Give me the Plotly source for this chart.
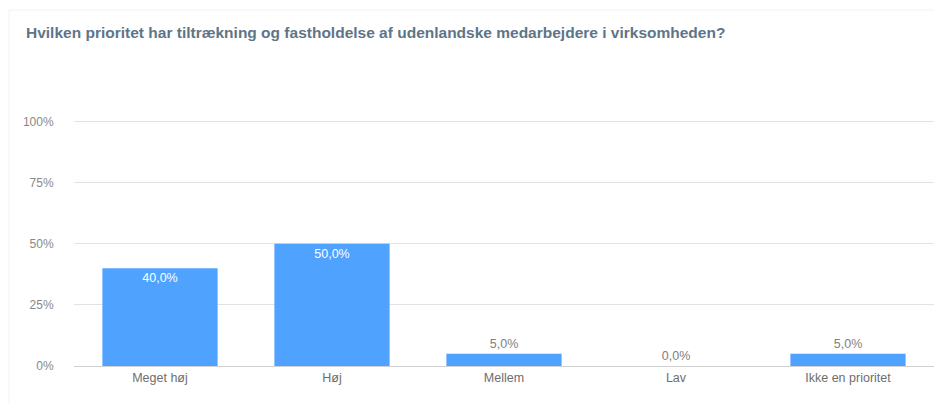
import plotly.graph_objects as go

categories = ["Meget høj", "Høj", "Mellem", "Lav", "Ikke en prioritet"]
values = [40.0, 50.0, 5.0, 0.0, 5.0]
tick_vals = [0, 25, 50, 75, 100]
tick_text = ["0%", "25%", "50%", "75%", "100%"]

labels = [f"{v:.1f}%".replace(".", ",") for v in values]
# big bars get label inside (white), small ones outside (gray)
positions = ["inside" if v >= 20 else "outside" for v in values]
text_colors = ["white" if p == "inside" else "#808080" for p in positions]

# page body adds 8px offset, so margins are shifted by that
L, R, T, B = 66, 16, 111, 45

fig = go.Figure(
    go.Bar(
        x=categories,
        y=values,
        text=labels,
        textposition=positions,
        insidetextanchor="end",
        textfont=dict(family="Liberation Sans, Arial", size=12.5, color=text_colors),
        marker=dict(color="#50A2FF", line=dict(width=0)),
        cliponaxis=False,
        hoverinfo="x+y",
    )
)

fig.update_layout(
    width=942,
    height=403,
    paper_bgcolor="white",
    plot_bgcolor="white",
    margin=dict(l=L, r=R, t=T, b=B),
    bargap=0.33,
    showlegend=False,
    font=dict(family="Liberation Sans, Arial", size=12, color="#808080"),
    title=dict(
        text="<b>Hvilken prioritet har tiltrækning og fastholdelse af udenlandske medarbejdere i virksomheden?</b>",
        x=18 / 942,
        xanchor="left",
        y=1 - 25 / 403,
        yanchor="middle",
        font=dict(family="Liberation Sans, Arial", size=15.5, color="#5E7588"),
    ),
    xaxis=dict(
        showgrid=False,
        showline=True,
        linecolor="#D0D0D0",
        linewidth=1,
        ticks="",
        tickfont=dict(size=12.5, color="#6E6E6E"),
    ),
    yaxis=dict(
        range=[0, 101],
        tickvals=tick_vals,
        ticktext=tick_text,
        showgrid=True,
        gridcolor="#E2E2E2",
        zeroline=False,
        ticks="outside",
        ticklen=17,
        tickcolor="white",
        tickfont=dict(size=12, color="#888888"),
    ),
    shapes=[
        dict(type="line", xref="paper", yref="paper",
             x0=-65 / 860, x1=1 + 16 / 860, y0=1 + 109 / 247, y1=1 + 109 / 247,
             line=dict(color="#F2F2F2", width=1)),
        dict(type="line", xref="paper", yref="paper",
             x0=-65 / 860, x1=-65 / 860, y0=-45 / 247, y1=1 + 109 / 247,
             line=dict(color="#F2F2F2", width=1)),
    ],
)

fig.write_html("out.html")
